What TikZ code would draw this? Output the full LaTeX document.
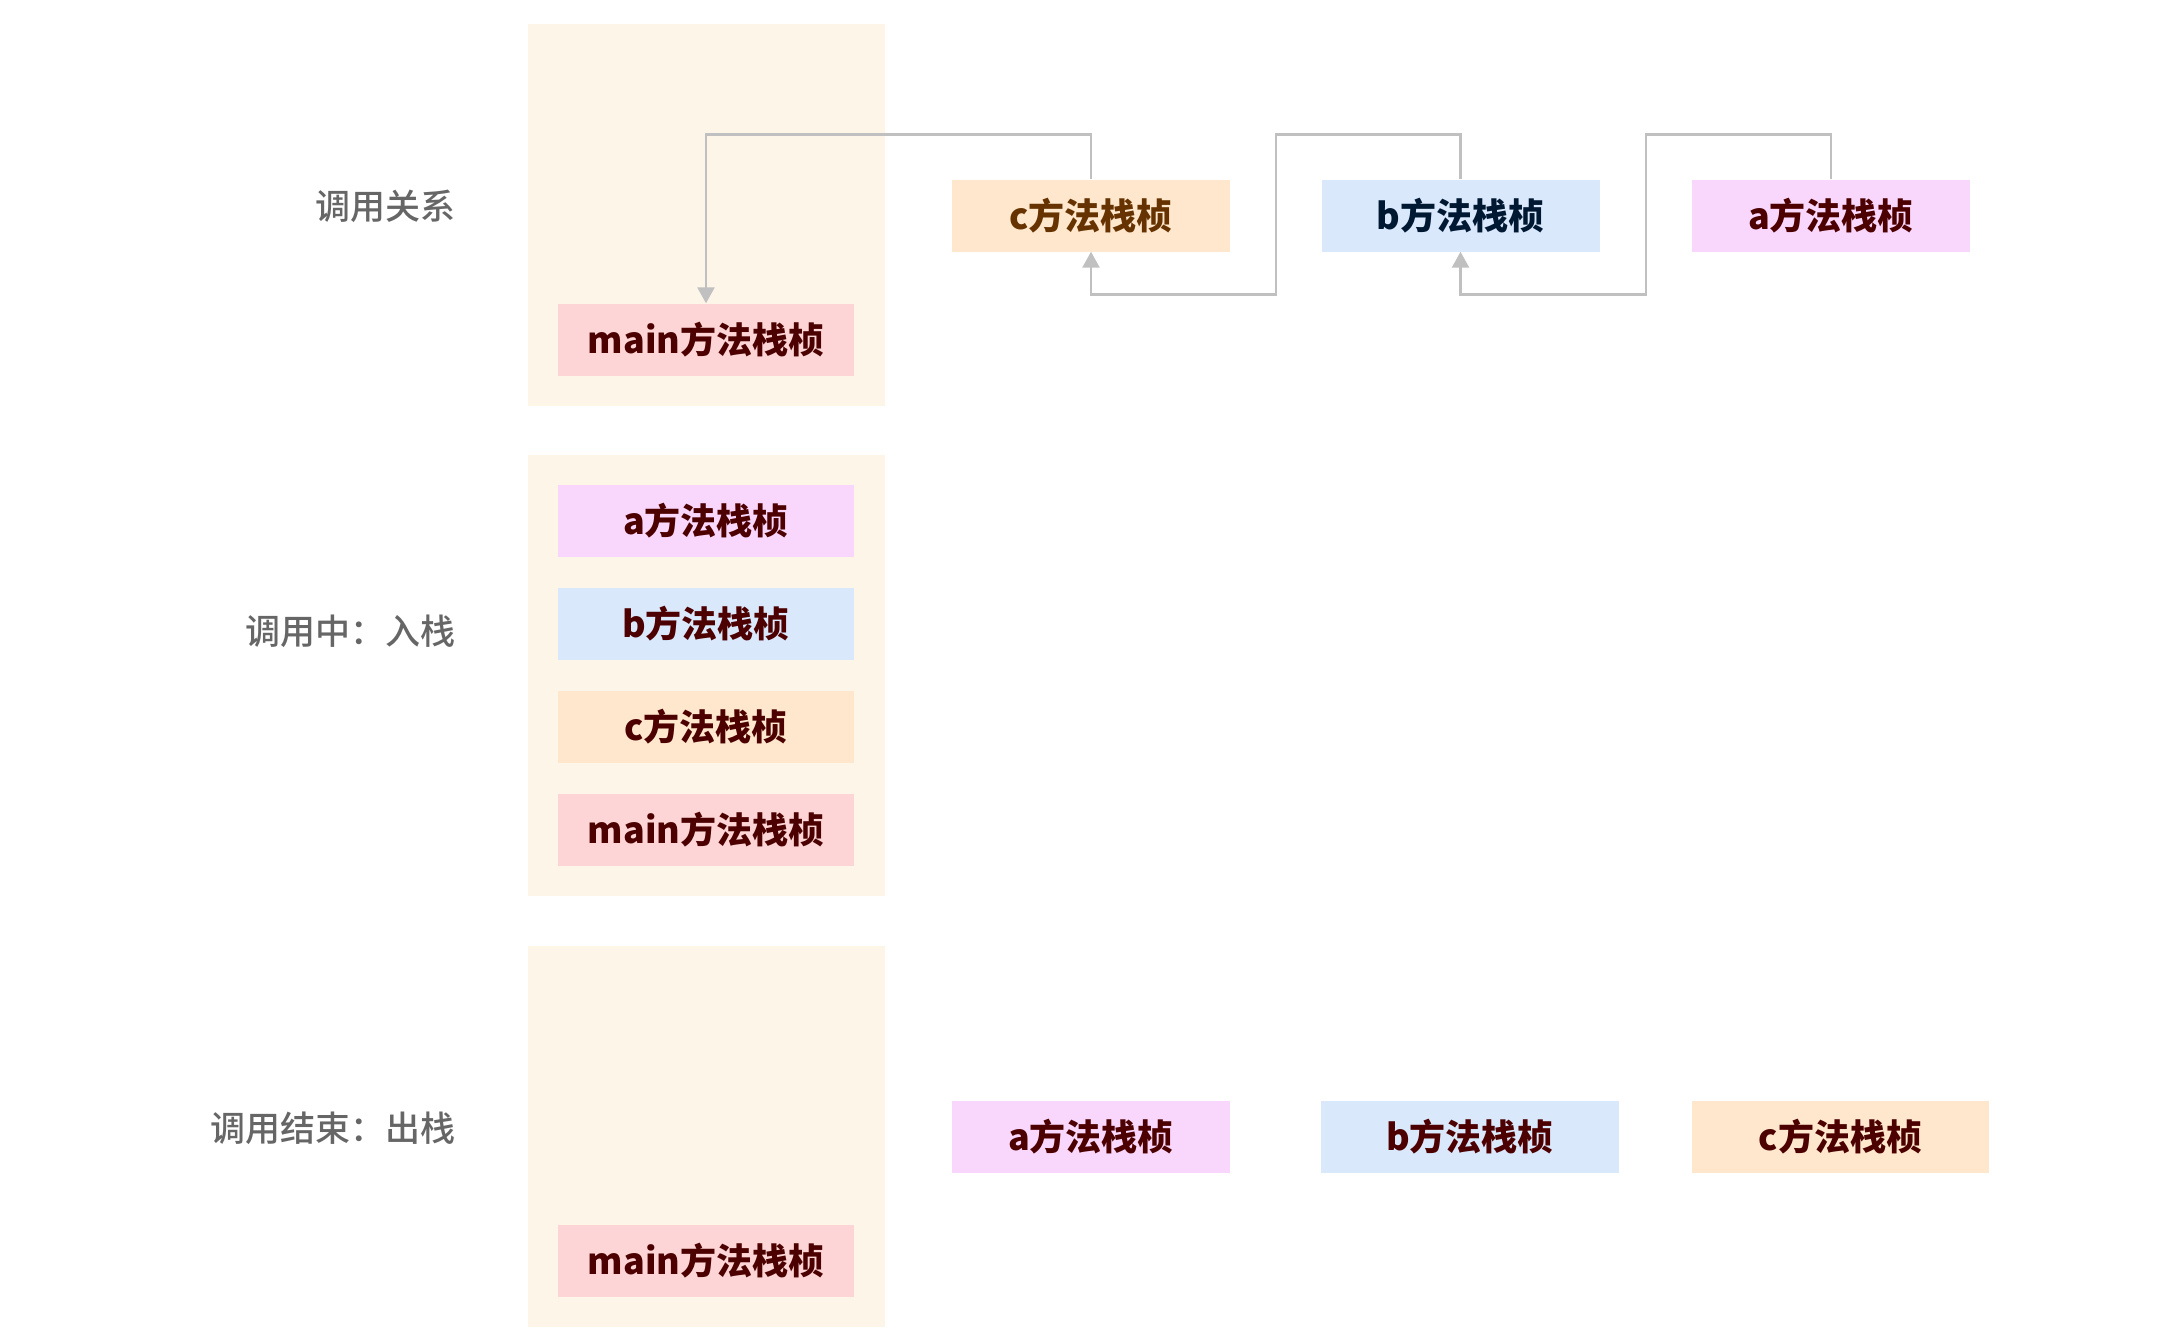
\documentclass[tikz,border=0pt]{standalone}
\usepackage{fontspec}
\setmainfont{Noto Sans CJK SC}
\newfontfamily\labelfont{Noto Sans CJK SC Medium}
\usetikzlibrary{arrows.meta,calc}

\definecolor{panelbg}{HTML}{FDF5E8}
\definecolor{mainfill}{HTML}{FDD5D6}
\definecolor{afill}{HTML}{F9D7FC}
\definecolor{bfill}{HTML}{DAE8FC}
\definecolor{cfill}{HTML}{FEE7CD}
\definecolor{redtext}{HTML}{4C0000}
\definecolor{browntext}{HTML}{663300}
\definecolor{navytext}{HTML}{001933}
\definecolor{linkgray}{HTML}{C0C0C0}

\tikzset{
    frame/.style={inner sep=0pt, minimum width=296pt, minimum height=72pt,
        text=redtext, font=\fontsize{36}{40}\selectfont\bfseries},
    rowlabel/.style={anchor=east, text=black!60, font=\labelfont\fontsize{35}{40}\selectfont},
    link/.style={draw=linkgray, line width=2.5pt, -{Triangle[width=17pt,length=16pt]}}
}

\begin{document}
\begin{tikzpicture}[x=1pt, y=-1pt]
        \useasboundingbox (0,0) rectangle (2172,1341);

        % PANELS
        \foreach \top/\bot in {24/406, 455/896, 946/1327} {
            \fill[panelbg] (528,\top) rectangle (885,\bot);
        }

        % LABELS
        \node[rowlabel] (lblcall) at (459,206) {调用关系};
        \node[rowlabel] (lblpush) at (459,631) {调用中：入栈};
        \node[rowlabel] (lblpop) at (459,1128) {调用结束：出栈};

        % CALL RELATION
        \node[frame, fill=mainfill] (callmain) at (706,339.5) {main方法栈桢};
        \node[frame, fill=cfill, minimum width=278pt, text=browntext] (callc) at (1091,215.5) {c方法栈桢};
        \node[frame, fill=bfill, minimum width=278pt, text=navytext] (callb) at (1460.5,215.5) {b方法栈桢};
        \node[frame, fill=afill, minimum width=278pt] (calla) at (1831,215.5) {a方法栈桢};

        \coordinate (bc) at ($(callc.east)!0.5!(callb.west)$);
        \coordinate (ab) at ($(callb.east)!0.5!(calla.west)$);

        \draw[link] (callc.north) -- ++(0,-45) -| (callmain.north);
        \draw[link] (callb.north) -- ++(0,-45) -| ($(bc)+(0,79)$) -| (callc.south);
        \draw[link] (calla.north) -- ++(0,-45) -| ($(ab)+(0,79)$) -| (callb.south);

        % PUSH
        \foreach \m/\col [count=\i] in {a/afill, b/bfill, c/cfill, main/mainfill} {
            \node[frame, fill=\col] (push\m) at (706,418+103*\i) {{\m}方法栈桢};
        }

        % POP
        \node[frame, fill=mainfill] (popmain) at (706,1260.5) {main方法栈桢};
        \node[frame, fill=afill, minimum width=278pt] (popa) at (1091,1136.5) {a方法栈桢};
        \node[frame, fill=bfill, minimum width=298pt] (popb) at (1470,1136.5) {b方法栈桢};
        \node[frame, fill=cfill, minimum width=297pt] (popc) at (1840.5,1136.5) {c方法栈桢};
    \end{tikzpicture}
\end{document}
